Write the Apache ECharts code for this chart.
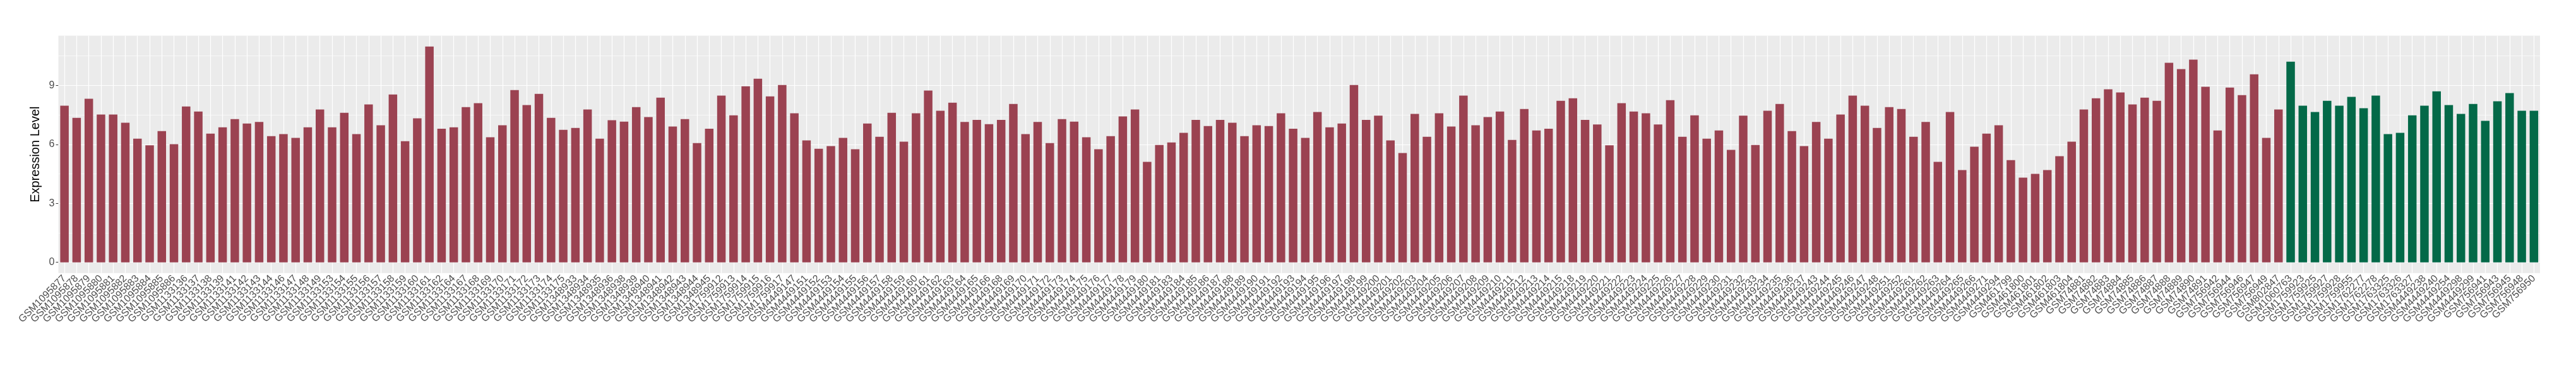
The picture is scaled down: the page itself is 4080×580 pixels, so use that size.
<!DOCTYPE html>
<html>
<head>
<meta charset="utf-8">
<script src="https://cdn.jsdelivr.net/npm/echarts@6/dist/echarts.min.js"></script>
<style>html,body{margin:0;padding:0;background:#fff}#c{width:4080px;height:580px}</style>
</head>
<body>
<div id="c"></div>
<script>
// Group 1 (red) samples and expression values
const redSamples = [
"GSM1095877","GSM1095878","GSM1095879","GSM1095880","GSM1095881","GSM1095882","GSM1095883","GSM1095884","GSM1095885","GSM1095886",
"GSM1133136","GSM1133137","GSM1133138","GSM1133139","GSM1133141","GSM1133142","GSM1133143","GSM1133144","GSM1133146","GSM1133147",
"GSM1133148","GSM1133149","GSM1133153","GSM1133154","GSM1133155","GSM1133156","GSM1133157","GSM1133158","GSM1133159","GSM1133160",
"GSM1133161","GSM1133162","GSM1133164","GSM1133167","GSM1133168","GSM1133169","GSM1133170","GSM1133171","GSM1133172","GSM1133173",
"GSM1133174","GSM1133175","GSM1348933","GSM1348934","GSM1348935","GSM1348936","GSM1348938","GSM1348939","GSM1348940","GSM1348941",
"GSM1348942","GSM1348943","GSM1348944","GSM1348945","GSM1759912","GSM1759913","GSM1759914","GSM1759915","GSM1759916","GSM1759917",
"GSM4449147","GSM4449151","GSM4449152","GSM4449153","GSM4449154","GSM4449155","GSM4449156","GSM4449157","GSM4449158","GSM4449159",
"GSM4449160","GSM4449161","GSM4449162","GSM4449163","GSM4449164","GSM4449165","GSM4449166","GSM4449168","GSM4449169","GSM4449170",
"GSM4449171","GSM4449172","GSM4449173","GSM4449174","GSM4449175","GSM4449176","GSM4449177","GSM4449178","GSM4449179","GSM4449180",
"GSM4449181","GSM4449183","GSM4449184","GSM4449185","GSM4449186","GSM4449187","GSM4449188","GSM4449189","GSM4449190","GSM4449191",
"GSM4449192","GSM4449193","GSM4449194","GSM4449195","GSM4449196","GSM4449197","GSM4449198","GSM4449199","GSM4449200","GSM4449201",
"GSM4449202","GSM4449203","GSM4449204","GSM4449205","GSM4449206","GSM4449207","GSM4449208","GSM4449209","GSM4449210","GSM4449211",
"GSM4449212","GSM4449213","GSM4449214","GSM4449215","GSM4449218","GSM4449219","GSM4449220","GSM4449221","GSM4449222","GSM4449223",
"GSM4449224","GSM4449225","GSM4449226","GSM4449227","GSM4449228","GSM4449229","GSM4449230","GSM4449231","GSM4449232","GSM4449233",
"GSM4449234","GSM4449235","GSM4449236","GSM4449237","GSM4449243","GSM4449244","GSM4449245","GSM4449246","GSM4449247","GSM4449248",
"GSM4449251","GSM4449252","GSM4449261","GSM4449262","GSM4449263","GSM4449264","GSM4449265","GSM4449266","GSM4449271","GSM4449294",
"GSM461799","GSM461800","GSM461801","GSM461802","GSM461803","GSM461804",
"GSM74881","GSM74882","GSM74883","GSM74884","GSM74885","GSM74886","GSM74887","GSM74888","GSM74889","GSM74890","GSM74891",
"GSM756942","GSM756944","GSM756946","GSM756947","GSM756949","GSM802847"
];
const redValues = [
7.97,7.35,8.32,7.52,7.52,7.10,6.29,5.95,6.68,6.01,
7.93,7.67,6.55,6.87,7.29,7.06,7.14,6.42,6.52,6.33,
6.87,7.78,6.87,7.61,6.52,8.03,6.97,8.54,6.16,7.33,
10.98,6.80,6.87,7.90,8.10,6.36,6.97,8.76,8.00,8.57,
7.35,6.74,6.84,7.78,6.29,7.23,7.16,7.90,7.39,8.38,
6.91,7.29,6.07,6.80,8.48,7.48,8.96,9.34,8.44,9.02,
7.58,6.20,5.78,5.91,6.33,5.75,7.06,6.39,7.61,6.14,
7.58,8.74,7.71,8.12,7.14,7.25,7.03,7.25,8.06,6.52,
7.14,6.07,7.29,7.16,6.36,5.75,6.42,7.42,7.78,5.11,
5.97,6.10,6.59,7.25,6.93,7.25,7.10,6.42,6.97,6.93,
7.58,6.80,6.33,7.65,6.87,7.06,9.02,7.25,7.46,6.20,
5.56,7.55,6.39,7.58,6.91,8.48,6.97,7.39,7.67,6.23,
7.80,6.71,6.80,8.22,8.35,7.25,7.01,5.95,8.10,7.67,
7.58,7.01,8.25,6.39,7.48,6.29,6.71,5.72,7.46,5.97,
7.71,8.06,6.68,5.91,7.14,6.29,7.52,8.48,7.97,6.84,
7.90,7.80,6.39,7.14,5.11,7.65,4.69,5.88,6.55,6.97,
5.20,4.31,4.50,4.69,5.40,6.14,
7.78,8.35,8.80,8.64,8.03,8.38,8.22,10.15,9.83,10.31,8.93,
6.71,8.89,8.51,9.57,6.33,7.78
];
// Group 2 (green) samples and expression values
const greenSamples = [
"GSM1060763","GSM1759923","GSM1759925","GSM1759927","GSM1759928","GSM1759955","GSM1762277","GSM1762278",
"GSM1763325","GSM1763326","GSM1763327","GSM4449238","GSM4449240","GSM4449254","GSM4449298","GSM4449299",
"GSM756941","GSM756943","GSM756945","GSM756948","GSM756950"
];
const greenValues = [
10.21,7.97,7.65,8.22,7.97,8.42,7.84,8.48,
6.52,6.59,7.48,7.97,8.70,8.00,7.55,8.06,
7.20,8.19,8.61,7.71,7.71
];
const yTicks = [0, 3, 6, 9];
const yMinorTicks = [1.5, 4.5, 7.5, 10.5];

const RED = '#9B4251';
const GREEN = '#036948';

const categories = redSamples.concat(greenSamples);
const barData = redValues.map(v => ({value: v, itemStyle: {color: RED}}))
  .concat(greenValues.map(v => ({value: v, itemStyle: {color: GREEN}})));

const gridLines = []
  .concat(yMinorTicks.map(v => ({yAxis: v, lineStyle: {color: '#ffffff', width: 0.6, type: 'solid'}})))
  .concat(yTicks.map(v => ({yAxis: v, lineStyle: {color: '#ffffff', width: 1.2, type: 'solid'}})))
  .concat(categories.map(c => ({xAxis: c, lineStyle: {color: '#ffffff', width: 1.2, type: 'solid'}})));

const FONT = 'Liberation Sans, Arial, sans-serif';
const chart = echarts.init(document.getElementById('c'), null, {renderer: 'canvas'});
chart.setOption({
  animation: false,
  backgroundColor: '#ffffff',
  textStyle: {fontFamily: FONT},
  grid: {left: 92.5, right: 57, top: 56.6, bottom: 147.2, show: true, backgroundColor: '#EBEBEB', borderWidth: 0, containLabel: false, z: 0},
  xAxis: {
    type: 'category',
    data: categories,
    boundaryGap: true,
    axisLine: {show: false},
    axisTick: {show: true, alignWithLabel: true, interval: 0, length: 4, lineStyle: {color: '#333333', width: 1}},
    axisLabel: {interval: 0, rotate: 45, fontSize: 16, color: '#4D4D4D', margin: 6, fontFamily: FONT},
    splitLine: {show: false}
  },
  yAxis: {
    type: 'value',
    min: -0.55,
    max: 11.53,
    name: 'Expression Level',
    nameLocation: 'middle',
    nameGap: 18,
    nameTextStyle: {fontSize: 20, color: '#000000', fontFamily: FONT},
    axisLine: {show: false},
    axisTick: {show: true, customValues: yTicks, length: 4, lineStyle: {color: '#333333', width: 1}},
    axisLabel: {customValues: yTicks, fontSize: 16, color: '#4D4D4D', margin: 6, fontFamily: FONT},
    splitLine: {show: false}
  },
  series: [
    {
      type: 'line',
      data: categories.map(() => null),
      z: 1,
      silent: true,
      showSymbol: false,
      markLine: {z: 1, silent: true, symbol: ['none', 'none'], label: {show: false}, animation: false, data: gridLines}
    },
    {
      type: 'bar',
      data: barData,
      z: 10,
      barCategoryGap: '30%'
    }
  ]
});
</script>
</body>
</html>
